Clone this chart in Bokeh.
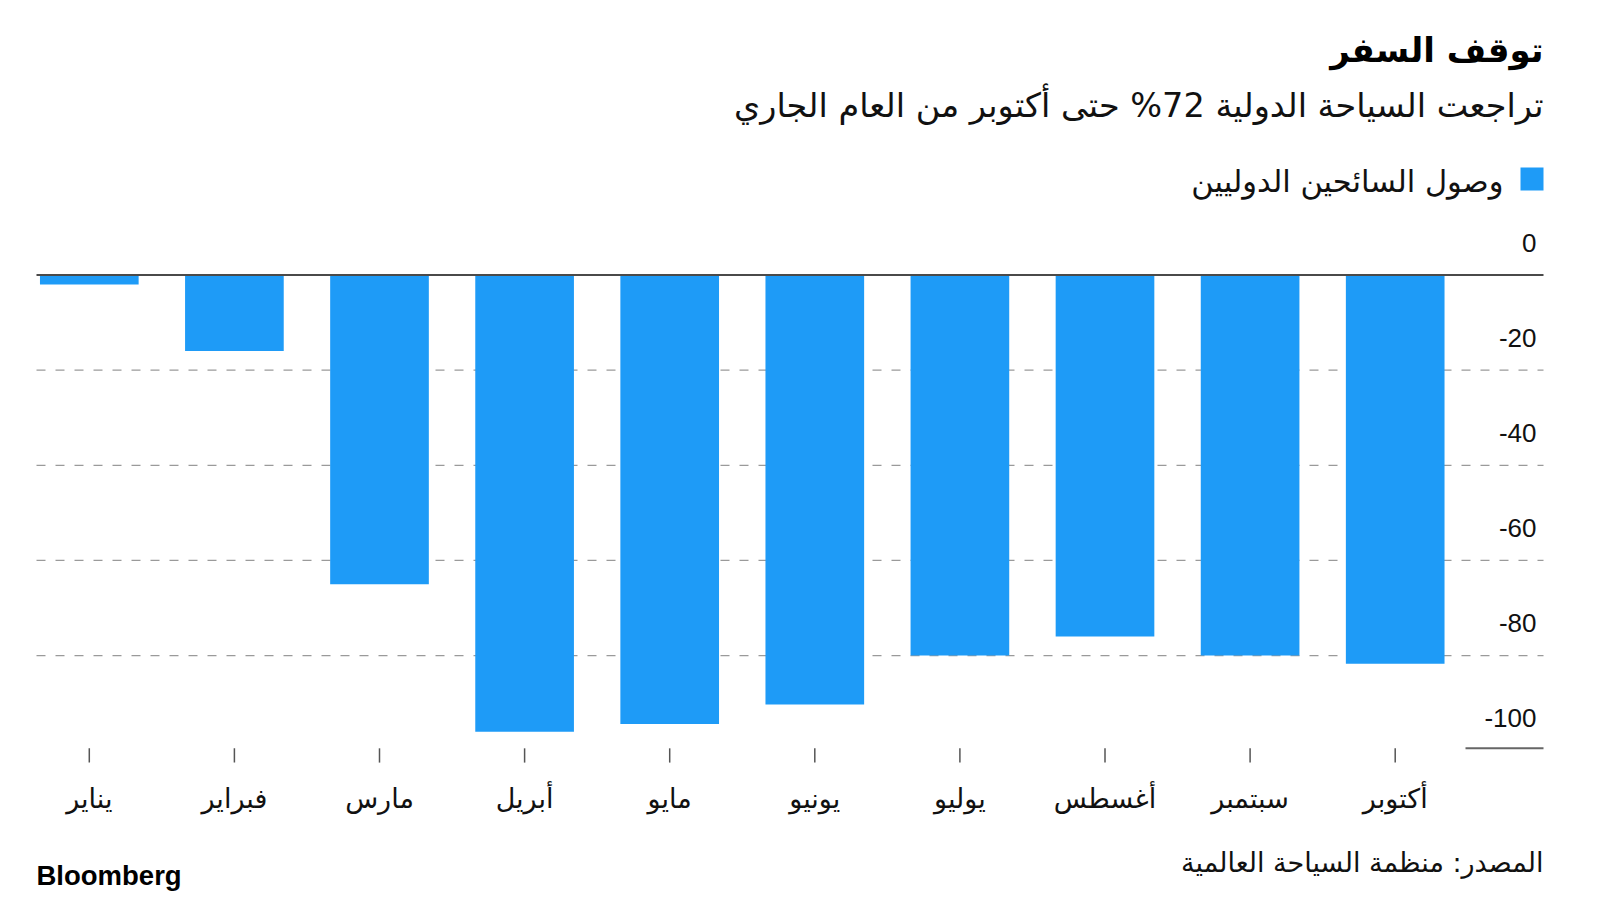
from bokeh.plotting import figure
from bokeh.models import Range1d
from bokeh.core.properties import value
from bokeh.embed import file_html
from bokeh.resources import INLINE

# ---------------- data ----------------
months = ["يناير", "فبراير", "مارس", "أبريل", "مايو", "يونيو",
          "يوليو", "أغسطس", "سبتمبر", "أكتوبر"]
arrivals_change = [-2, -16, -65, -96, -94.4, -90.3, -80, -76, -80, -81.7]
grid_values = [-20, -40, -60, -80]
y_ticks = [0, -20, -40, -60, -80, -100]
y_tick_labels = ["0", "-20", "-40", "-60", "-80", "-100"]

title_text = "توقف السفر"
subtitle_text = "تراجعت السياحة الدولية 72% حتى أكتوبر من العام الجاري"
legend_text = "وصول السائحين الدوليين"
source_text = "المصدر: منظمة السياحة العالمية"
brand_text = "Bloomberg"

# ---------------- layout ----------------
W, H = 1592, 896
X0_PX, DX_PX = 88.8, 145.1     # px of first category centre, px per category
Y0_PX, DY_PX = 274.5, 4.757    # px of zero line, px per unit


def dx(px):
    return (px - X0_PX) / DX_PX


def dy(py):
    return (Y0_PX - py) / DY_PX


XL, XR = dx(36), dx(1543)
BLUE = "#1E9BF7"
AR_FONT = value("DejaVu Sans")
NUM_FONT = value("Liberation Sans")

p = figure(width=W, height=H, x_range=Range1d(dx(0), dx(W)),
           y_range=Range1d(dy(H), dy(0)),
           x_axis_type=None, y_axis_type=None, title=None, min_border=0,
           toolbar_location=None, output_backend="svg")
p.outline_line_color = None
p.background_fill_color = "white"
p.border_fill_color = "white"

xs = list(range(len(months)))

# gridlines
p.segment(x0=[XL] * len(grid_values), x1=[XR] * len(grid_values), y0=grid_values, y1=grid_values,
          line_color="#9a9a9a", line_width=1.3, line_dash="9 10")
# short line at -100
p.segment(x0=[dx(1465)], x1=[XR], y0=[y_ticks[-1] + 0.5], y1=[y_ticks[-1] + 0.5],
          line_color="#666666", line_width=2)

# bars
p.vbar(x=xs, top=[0] * len(xs), bottom=arrivals_change, width=0.68,
       fill_color=BLUE, line_color=None)

# zero line
p.segment(x0=[XL], x1=[XR], y0=[0], y1=[0], line_color="#4a4a4a", line_width=2.2)

# x ticks and labels
p.segment(x0=xs, x1=xs, y0=[-99.5] * len(xs), y1=[-102.5] * len(xs),
          line_color="#555555", line_width=1.5)
p.text(x=xs, y=[dy(798)] * len(xs), text=months, text_align="center", text_baseline="middle",
       text_font=AR_FONT, text_font_size="27px", text_color="#111111")

# y tick labels
p.text(x=[dx(1536)] * len(y_ticks), y=[t + 6.8 for t in y_ticks], text=y_tick_labels,
       text_align="right", text_baseline="middle", text_font=NUM_FONT,
       text_font_size="26px", text_color="#111111")

# title / subtitle
p.text(x=[XR], y=[dy(49)], text=[title_text], text_align="right", text_baseline="middle",
       text_font=AR_FONT, text_font_size="34px", text_font_style="bold", text_color="#000000")
p.text(x=[XR], y=[dy(105)], text=[subtitle_text], text_align="right", text_baseline="middle",
       text_font=AR_FONT, text_font_size="33.5px", text_color="#111111")

# legend
p.scatter(x=[dx(1531.5)], y=[dy(178.5)], marker="square", size=23, fill_color=BLUE, line_color=None)
p.text(x=[dx(1503)], y=[dy(181)], text=[legend_text], text_align="right", text_baseline="middle",
       text_font=AR_FONT, text_font_size="30.5px", text_color="#111111")

# footer
p.text(x=[XR], y=[dy(862)], text=[source_text], text_align="right", text_baseline="middle",
       text_font=AR_FONT, text_font_size="27px", text_color="#111111")
p.text(x=[XL], y=[dy(875)], text=[brand_text], text_align="left", text_baseline="middle",
       text_font=NUM_FONT, text_font_size="27.5px", text_font_style="bold", text_color="#000000")

open("out.html", "w").write(file_html(p, INLINE))
